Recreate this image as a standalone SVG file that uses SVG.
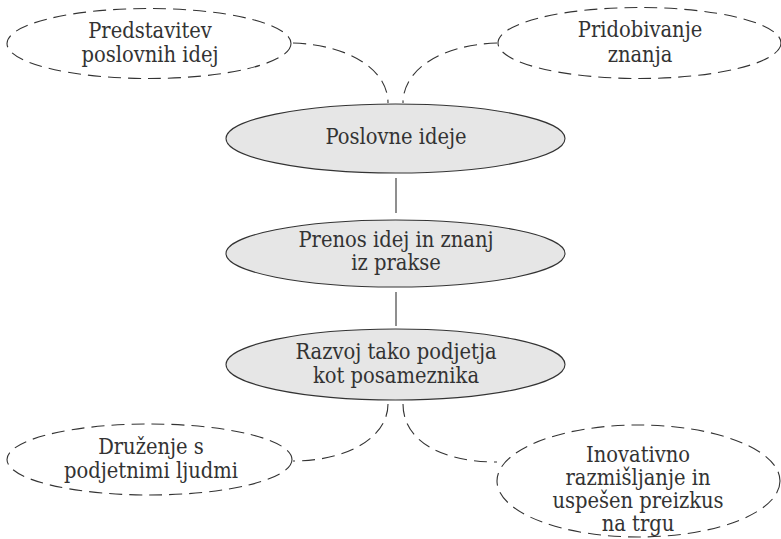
<svg xmlns="http://www.w3.org/2000/svg" width="781" height="539" viewBox="0 0 781 539">
<style>
  .main ellipse { fill: #e6e6e6; stroke: #333; stroke-width: 1.1; }
  .side ellipse { fill: none; stroke: #333; stroke-width: 1.1; stroke-dasharray: 13 7; }
  text { font-family: "DejaVu Serif Condensed", "DejaVu Serif", "Liberation Serif", serif; font-stretch: condensed; font-size: 21.7px; fill: #333; text-anchor: middle; }
  .solid { stroke: #333; stroke-width: 1.1; fill: none; }
  .dashed { stroke: #333; stroke-width: 1.1; fill: none; stroke-dasharray: 13 7; }
</style>
<rect width="781" height="539" fill="#ffffff"/>
<g id="connectors">
  <path class="dashed" d="M293,43 C350,45 388,70 388,103"/>
  <path class="dashed" d="M497,43 C440,45 403,70 403,103"/>
  <line class="solid" x1="396" y1="178" x2="396" y2="213"/>
  <line class="solid" x1="396" y1="292" x2="396" y2="326"/>
  <path class="dashed" d="M388,404 C388,437 348,461 293,461"/>
  <path class="dashed" d="M403,404 C403,440 440,462 497,462"/>
</g>
<g id="node-predstavitev" class="side">
  <ellipse cx="149" cy="43.5" rx="142" ry="35"/>
  <text x="150" y="38">Predstavitev</text>
  <text x="150" y="62">poslovnih idej</text>
</g>
<g id="node-pridobivanje" class="side">
  <ellipse cx="639.5" cy="43" rx="141.5" ry="35.5"/>
  <text x="640" y="37">Pridobivanje</text>
  <text x="640" y="62">znanja</text>
</g>
<g id="node-poslovne" class="main">
  <ellipse cx="395.5" cy="138.5" rx="169.5" ry="34.5"/>
  <text x="396" y="144">Poslovne ideje</text>
</g>
<g id="node-prenos" class="main">
  <ellipse cx="395.5" cy="253.5" rx="169.5" ry="33.5"/>
  <text x="396" y="247">Prenos idej in znanj</text>
  <text x="396" y="270">iz prakse</text>
</g>
<g id="node-razvoj" class="main">
  <ellipse cx="395.5" cy="364.5" rx="169.5" ry="35.5"/>
  <text x="396" y="359">Razvoj tako podjetja</text>
  <text x="396" y="383">kot posameznika</text>
</g>
<g id="node-druzenje" class="side">
  <ellipse cx="149.5" cy="459.5" rx="142.5" ry="35.5"/>
  <text x="151" y="454">Druženje s</text>
  <text x="151" y="478">podjetnimi ljudmi</text>
</g>
<g id="node-inovativno" class="side">
  <ellipse cx="638.5" cy="481" rx="141.5" ry="56"/>
  <text x="638" y="462">Inovativno</text>
  <text x="638" y="485">razmišljanje in</text>
  <text x="638" y="508">uspešen preizkus</text>
  <text x="638" y="531">na trgu</text>
</g>
</svg>
